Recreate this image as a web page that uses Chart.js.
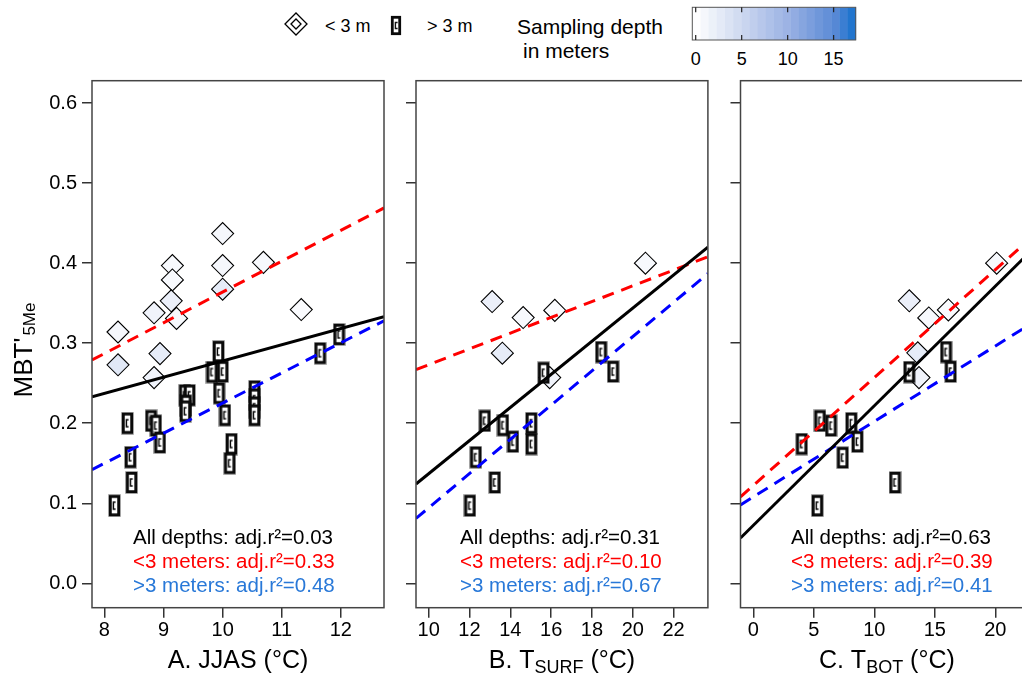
<!DOCTYPE html>
<html>
<head>
<meta charset="utf-8">
<script src="https://cdn.jsdelivr.net/npm/chart.js@4.4.1/dist/chart.umd.min.js"></script>
<style>
  html, body { margin: 0; padding: 0; background: #fff; overflow: hidden; width: 1022px; height: 683px; }
  canvas { position: absolute; top: 0; }
  #legend { position: absolute; left: 0; top: 0; }
</style>
</head>
<body>
<svg id="legend" width="1022" height="72"></svg>
<canvas id="cA" width="400" height="683" style="left:0px"></canvas>
<canvas id="cB" width="320" height="683" style="left:400px"></canvas>
<canvas id="cC" width="330" height="683" style="left:725px"></canvas>
<script>
// ---- data ----
var yTicks = [0, 0.1, 0.2, 0.3, 0.4, 0.5, 0.6];
var yRange = [-0.0305, 0.628];

// A. JJAS
var jjasTicks = [8, 9, 10, 11, 12];
var jjasRange = [7.79, 12.73];
var jjasShallowX = [8.23, 8.23, 8.84, 8.94, 8.84, 9.15, 9.15, 9.13, 9.22, 10.0, 10.0, 10.0, 10.69, 11.33];
var jjasShallowY = [0.314, 0.273, 0.338, 0.287, 0.257, 0.397, 0.379, 0.353, 0.331, 0.437, 0.397, 0.3675, 0.401, 0.342];
var jjasShallowDepth = [1.0, 3.0, 1.5, 2.5, 1.5, 0.8, 0.8, 2.0, 0.8, 1.0, 1.0, 2.5, 0.8, 0.5];
var jjasDeepX = [8.17, 8.46, 8.44, 8.39, 8.79, 8.87, 8.94, 9.36, 9.44, 9.38, 9.37, 9.93, 9.82, 10.0, 9.94, 10.04, 10.15, 10.12, 10.54, 10.54, 10.54, 10.54, 11.65, 11.97];
var jjasDeepY = [0.097, 0.126, 0.1575, 0.2, 0.203, 0.197, 0.176, 0.235, 0.235, 0.222, 0.215, 0.2895, 0.264, 0.2645, 0.2375, 0.21, 0.174, 0.15, 0.24, 0.23, 0.22, 0.21, 0.2875, 0.311];
var jjasFitAll = [0.233, 0.333];
var jjasFitShallow = [0.279, 0.469];
var jjasFitDeep = [0.142, 0.328];

// B. T surf
var surfTicks = [10, 12, 14, 16, 18, 20, 22];
var surfRange = [9.38, 23.68];
var surfShallowX = [13.11, 14.63, 16.18, 13.61, 15.93, 20.62];
var surfShallowY = [0.352, 0.332, 0.341, 0.2875, 0.257, 0.40];
var surfShallowDepth = [2.0, 0.8, 0.5, 2.5, 1.5, 0.8];
var surfDeepX = [15.63, 18.45, 19.04, 12.75, 13.64, 14.13, 15.03, 15.03, 12.31, 13.24, 12.02];
var surfDeepY = [0.263, 0.289, 0.2645, 0.203, 0.1975, 0.177, 0.2, 0.174, 0.1575, 0.126, 0.097];
var surfFitAll = [0.124, 0.420];
var surfFitShallow = [0.267, 0.408];
var surfFitDeep = [0.081, 0.387];

// C. T bot
var botTicks = [0, 5, 10, 15, 20];
var botRange = [-1.06, 23.13];
var botShallowX = [12.89, 14.5, 16.12, 13.59, 13.69, 20.11];
var botShallowY = [0.353, 0.3316, 0.3416, 0.288, 0.257, 0.40];
var botShallowDepth = [2.0, 0.8, 0.5, 2.5, 1.5, 0.8];
var botDeepX = [12.89, 15.93, 16.31, 5.51, 6.42, 8.1, 4.0, 8.6, 7.39, 11.71, 5.29];
var botDeepY = [0.264, 0.289, 0.2645, 0.203, 0.197, 0.2, 0.174, 0.177, 0.157, 0.126, 0.097];
var botFitAll = [0.0566, 0.418];
var botFitShallow = [0.108, 0.434];
var botFitDeep = [0.098, 0.326];

// adjusted r2 per panel (A, B, C)
var r2All = [0.03, 0.31, 0.63];
var r2Shallow = [0.33, 0.10, 0.39];
var r2Deep = [0.48, 0.67, 0.41];

// colour bar
var depthTicks = [0, 5, 10, 15];
var depthRange = [-0.37, 17.4];
var depthStops = [[0, [255, 255, 255]], [5, [205, 216, 240]], [10, [155, 178, 228]], [15, [91, 138, 214]], [17.4, [20, 112, 204]]];

// ---- helpers ----
var FONT = "'Liberation Sans', Arial, Helvetica, sans-serif";
var RED = '#ff0000', BLUE = '#0000ff', TXTBLUE = '#2878d8';

function depthColor(d) {
  if (d <= depthStops[0][0]) return 'rgb(255,255,255)';
  for (var i = 1; i < depthStops.length; i++) {
    var a = depthStops[i - 1], b = depthStops[i];
    if (d <= b[0] || i == depthStops.length - 1) {
      var t = Math.min(1, (d - a[0]) / (b[0] - a[0]));
      var c = a[1].map(function (v, k) { return Math.round(v + (b[1][k] - v) * t); });
      return 'rgb(' + c.join(',') + ')';
    }
  }
}

function pts(xs, ys) {
  return xs.map(function (x, i) { return { x: x, y: ys[i] }; });
}

// rectangle marker for > 3 m samples
var rectImg = document.createElement('canvas');
rectImg.width = 13; rectImg.height = 23;
(function () {
  var c = rectImg.getContext('2d');
  c.fillStyle = '#fff';
  c.fillRect(1, 1, 11, 21);
  c.strokeStyle = 'rgba(0,0,0,0.25)';
  c.lineWidth = 1;
  c.strokeRect(0.5, 0.5, 12, 22);
  c.strokeStyle = '#0a0a0a';
  c.lineWidth = 2.9;
  c.strokeRect(2.3, 2.3, 8.4, 18.4);
  c.lineWidth = 1.5;
  c.beginPath();
  c.moveTo(7.6, 8); c.lineTo(5.4, 8); c.lineTo(5.4, 15); c.lineTo(7.6, 15);
  c.stroke();
})();

function drawSegments(ctx, segs, x0, y, align) {
  var total = 0;
  segs.forEach(function (s) {
    ctx.font = s.size + 'px ' + FONT;
    s.w = ctx.measureText(s.t).width + (s.gap || 0);
    total += s.w;
  });
  var x = align == 'center' ? x0 - total / 2 : x0;
  ctx.textAlign = 'left';
  ctx.textBaseline = 'alphabetic';
  segs.forEach(function (s) {
    ctx.font = s.size + 'px ' + FONT;
    ctx.fillText(s.t, x + (s.gap || 0), y + (s.dy || 0));
    x += s.w;
  });
}

var panelPlugin = {
  id: 'panel',
  afterDraw: function (chart, args, o) {
    var ctx = chart.ctx, a = chart.chartArea;
    ctx.save();
    ctx.strokeStyle = '#444';
    ctx.lineWidth = 1.5;
    ctx.strokeRect(a.left, a.top, a.right - a.left, a.bottom - a.top);

    ctx.font = '20.5px ' + FONT;
    ctx.textAlign = 'left';
    ctx.textBaseline = 'alphabetic';
    var tx = a.left + o.textOffset;
    ctx.fillStyle = '#000';
    ctx.fillText('All depths: adj.r\u00b2=' + r2All[o.idx].toFixed(2), tx, 544);
    ctx.fillStyle = RED;
    ctx.fillText('<3 meters: adj.r\u00b2=' + r2Shallow[o.idx].toFixed(2), tx, 568);
    ctx.fillStyle = TXTBLUE;
    ctx.fillText('>3 meters: adj.r\u00b2=' + r2Deep[o.idx].toFixed(2), tx, 592);

    ctx.fillStyle = '#000';
    drawSegments(ctx, o.xTitle, (a.left + a.right) / 2, 668, 'center');

    if (o.yTitle) {
      ctx.translate(32, 350);
      ctx.rotate(-Math.PI / 2);
      drawSegments(ctx, o.yTitle, 0, 0, 'center');
    }
    ctx.restore();
  }
};

Chart.defaults.font.family = FONT;
Chart.defaults.color = '#000';

function makePanel(id, p) {
  var datasets = [
    { data: pts(p.range, p.fitAll), showLine: true, borderColor: '#000', borderWidth: 3, pointRadius: 0, order: 0 },
    { data: pts(p.range, p.fitShallow), showLine: true, borderColor: RED, borderWidth: 3, borderDash: [12, 8], pointRadius: 0, order: 0 },
    { data: pts(p.range, p.fitDeep), showLine: true, borderColor: BLUE, borderWidth: 3, borderDash: [12, 8], pointRadius: 0, order: 0 },
    { data: pts(p.deepX, p.deepY), pointStyle: rectImg, order: 1 },
    { data: pts(p.shallowX, p.shallowY), pointStyle: 'rectRot', pointRadius: 11, borderWidth: 1.1,
      borderColor: '#000', backgroundColor: p.shallowDepth.map(depthColor), order: 2 }
  ];
  return new Chart(document.getElementById(id), {
    type: 'scatter',
    data: { datasets: datasets },
    plugins: [panelPlugin],
    options: {
      responsive: false,
      animation: false,
      events: [],
      layout: { padding: { left: 0, right: p.padRight, top: 80.7, bottom: 0 } },
      plugins: {
        legend: { display: false },
        tooltip: { enabled: false },
        panel: { idx: p.idx, textOffset: p.textOffset, xTitle: p.xTitle, yTitle: p.yTitle }
      },
      scales: {
        x: {
          type: 'linear', min: p.range[0], max: p.range[1],
          afterBuildTicks: function (s) { s.ticks = p.ticks.map(function (v) { return { value: v }; }); },
          afterFit: function (s) { s.height = 75.3; },
          ticks: { font: { size: 20 }, padding: 1, color: '#000', callback: function (v) { return String(v); } },
          grid: { drawOnChartArea: false, drawTicks: true, tickLength: 10, color: '#333', lineWidth: 1.5 },
          border: { display: false }
        },
        y: {
          type: 'linear', min: yRange[0], max: yRange[1],
          afterBuildTicks: function (s) { s.ticks = yTicks.map(function (v) { return { value: v }; }); },
          afterFit: function (s) { s.width = p.yWidth; },
          ticks: { font: { size: 20 }, padding: 5, color: '#000',
            callback: function (v) { return p.yLabels ? v.toFixed(1) : ''; } },
          grid: { drawOnChartArea: false, drawTicks: true, tickLength: 10, color: '#333', lineWidth: 1.5 },
          border: { display: false }
        }
      }
    }
  });
}

makePanel('cA', {
  idx: 0, range: jjasRange, ticks: jjasTicks, yLabels: true, yWidth: 92, padRight: 16, textOffset: 41,
  shallowX: jjasShallowX, shallowY: jjasShallowY, shallowDepth: jjasShallowDepth,
  deepX: jjasDeepX, deepY: jjasDeepY,
  fitAll: jjasFitAll, fitShallow: jjasFitShallow, fitDeep: jjasFitDeep,
  xTitle: [{ t: 'A. JJAS (\u00b0C)', size: 25 }],
  yTitle: [{ t: "MBT'", size: 26 }, { t: '5Me', size: 17, dy: 3, gap: 2 }]
});
makePanel('cB', {
  idx: 1, range: surfRange, ticks: surfTicks, yLabels: false, yWidth: 16, padRight: 11.3, textOffset: 44,
  shallowX: surfShallowX, shallowY: surfShallowY, shallowDepth: surfShallowDepth,
  deepX: surfDeepX, deepY: surfDeepY,
  fitAll: surfFitAll, fitShallow: surfFitShallow, fitDeep: surfFitDeep,
  xTitle: [{ t: 'B. T', size: 25 }, { t: 'SURF', size: 18, dy: 5 }, { t: ' (\u00b0C)', size: 25 }]
});
makePanel('cC', {
  idx: 2, range: botRange, ticks: botTicks, yLabels: false, yWidth: 15.5, padRight: 21.8, textOffset: 50.5,
  shallowX: botShallowX, shallowY: botShallowY, shallowDepth: botShallowDepth,
  deepX: botDeepX, deepY: botDeepY,
  fitAll: botFitAll, fitShallow: botFitShallow, fitDeep: botFitDeep,
  xTitle: [{ t: 'C. T', size: 25 }, { t: 'BOT', size: 18, dy: 5 }, { t: ' (\u00b0C)', size: 25 }]
});

// ---- legend and colour bar ----
(function () {
  var svg = document.getElementById('legend');
  var ns = 'http://www.w3.org/2000/svg';
  function el(tag, attrs, text) {
    var e = document.createElementNS(ns, tag);
    for (var k in attrs) e.setAttribute(k, attrs[k]);
    if (text != null) e.textContent = text;
    svg.appendChild(e);
    return e;
  }
  var tf = { 'font-family': "Liberation Sans, Arial, sans-serif", fill: '#000' };
  function txt(x, y, size, s, anchor) {
    var a = Object.assign({ x: x, y: y, 'font-size': size, 'text-anchor': anchor || 'start' }, tf);
    return el('text', a, s);
  }
  // diamond symbol
  el('polygon', { points: '285,24 296,13 307,24 296,35', fill: '#fff', stroke: '#000', 'stroke-width': 1.3 });
  el('polygon', { points: '291,24 296,19 301,24 296,29', fill: '#fff', stroke: '#000', 'stroke-width': 1.3 });
  txt(325, 31.5, 18, '< 3 m');
  // rectangle symbol
  el('rect', { x: 392.3, y: 17.3, width: 7.4, height: 16.4, fill: '#fff', stroke: '#0a0a0a', 'stroke-width': 2.8 });
  el('polyline', { points: '397.6,22.5 395.4,22.5 395.4,28.5 397.6,28.5', fill: 'none', stroke: '#111', 'stroke-width': 1.4 });
  txt(427, 31.5, 18, '> 3 m');
  txt(517, 34, 21, 'Sampling depth');
  txt(523, 58, 21, 'in meters');

  // colour bar
  var x0 = 692.3, x1 = 855.7, y0 = 7.3, y1 = 40;
  var n = 20, span = depthRange[1] - depthRange[0];
  for (var i = 0; i < n; i++) {
    var d = depthRange[0] + (i + 0.5) * span / n;
    el('rect', { x: x0 + i * (x1 - x0) / n, y: y0, width: (x1 - x0) / n + 0.4, height: y1 - y0, fill: depthColor(d), stroke: 'none' });
  }
  el('rect', { x: x0, y: y0, width: x1 - x0, height: y1 - y0, fill: 'none', stroke: '#555', 'stroke-width': 1 });
  depthTicks.forEach(function (v) {
    var x = x0 + (v - depthRange[0]) / span * (x1 - x0);
    el('line', { x1: x, x2: x, y1: y0, y2: y0 + 5, stroke: '#222', 'stroke-width': 1.2 });
    el('line', { x1: x, x2: x, y1: y1 - 5, y2: y1, stroke: '#222', 'stroke-width': 1.2 });
    txt(x, 65, 18, String(v), 'middle');
  });
})();
</script>
</body>
</html>
